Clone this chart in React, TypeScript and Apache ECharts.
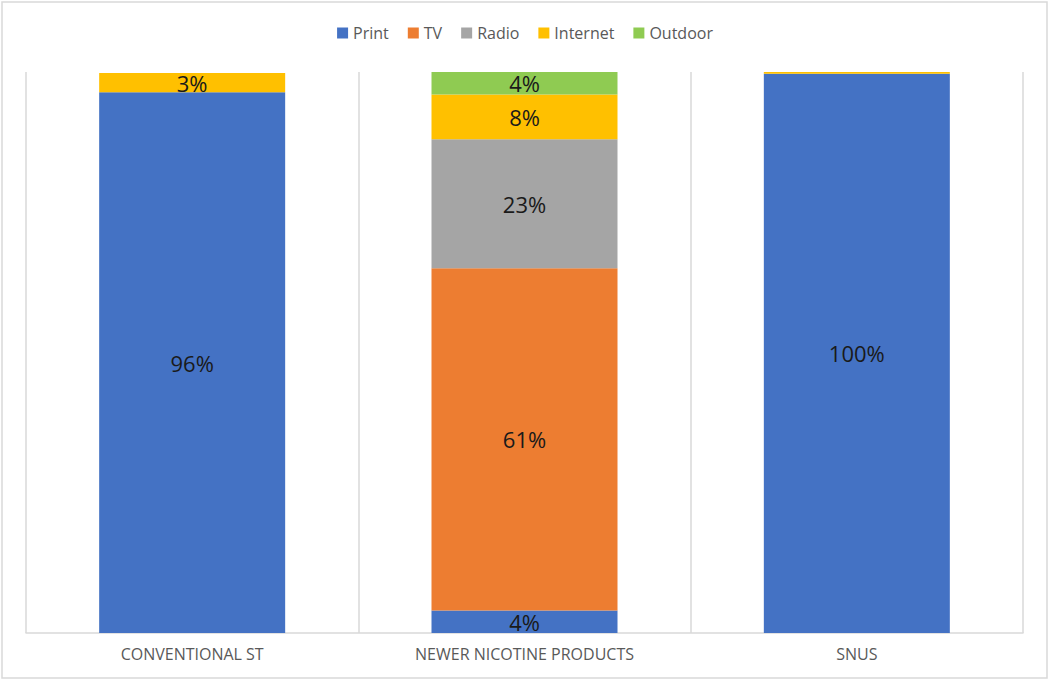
import React, { useEffect, useRef } from "react";
import * as echarts from "echarts";

const categories = ["CONVENTIONAL ST", "NEWER NICOTINE PRODUCTS", "SNUS"];
const printValues = [96.4, 4, 99.7];
const tvValues = [null, 61, null];
const radioValues = [null, 23, null];
const internetValues = [3.4, 8, 0.3];
const outdoorValues = [null, 4, null];

const seriesDefs = [
  { name: "Print", data: printValues, color: "#4472C4" },
  { name: "TV", data: tvValues, color: "#ED7D31" },
  { name: "Radio", data: radioValues, color: "#A5A5A5" },
  { name: "Internet", data: internetValues, color: "#FFC000" },
  { name: "Outdoor", data: outdoorValues, color: "#8FCB52" },
];

export default function App() {
  const ref = useRef<HTMLDivElement>(null);
  useEffect(() => {
    document.body.style.margin = "0";
    const chart = echarts.init(ref.current!, undefined, { renderer: "svg" });
    chart.setOption({
      animation: false,
      textStyle: { fontFamily: "Open Sans" },
      graphic: [
        {
          type: "rect",
          shape: { x: 2, y: 2, width: 1045, height: 676 },
          style: { fill: "none", stroke: "#d9d9d9", lineWidth: 1.5 },
          silent: true,
        },
      ],
      legend: {
        top: 20,
        left: "center",
        itemWidth: 11,
        itemHeight: 11,
        itemGap: 19,
        icon: "rect",
        textStyle: { fontSize: 16, color: "#595959", fontFamily: "Open Sans" },
        data: seriesDefs.map((s) => s.name),
      },
      grid: { left: 26, right: 27, top: 72, bottom: 48 },
      xAxis: {
        type: "category",
        data: categories,
        axisLine: { lineStyle: { color: "#d9d9d9", width: 1.5 } },
        axisTick: { show: false },
        splitLine: { show: true, lineStyle: { color: "#d9d9d9", width: 1.5 } },
        axisLabel: {
          color: "#595959",
          fontSize: 16,
          margin: 13,
          fontFamily: "Open Sans",
        },
      },
      yAxis: {
        type: "value",
        min: 0,
        max: 100,
        show: false,
        splitLine: { show: false },
      },
      series: seriesDefs.map((s) => ({
        name: s.name,
        type: "bar",
        stack: "total",
        barWidth: 186,
        data: s.data,
        itemStyle: { color: s.color },
        label: {
          show: true,
          position: "inside",
          color: "#1a1a1a",
          fontSize: 22,
          fontFamily: "Open Sans",
          formatter: (p: any) =>
            p.value != null && p.value >= 1 ? Math.round(p.value) + "%" : "",
        },
      })),
    });
    return () => chart.dispose();
  }, []);
  return <div ref={ref} style={{ width: 1050, height: 681 }} />;
}
